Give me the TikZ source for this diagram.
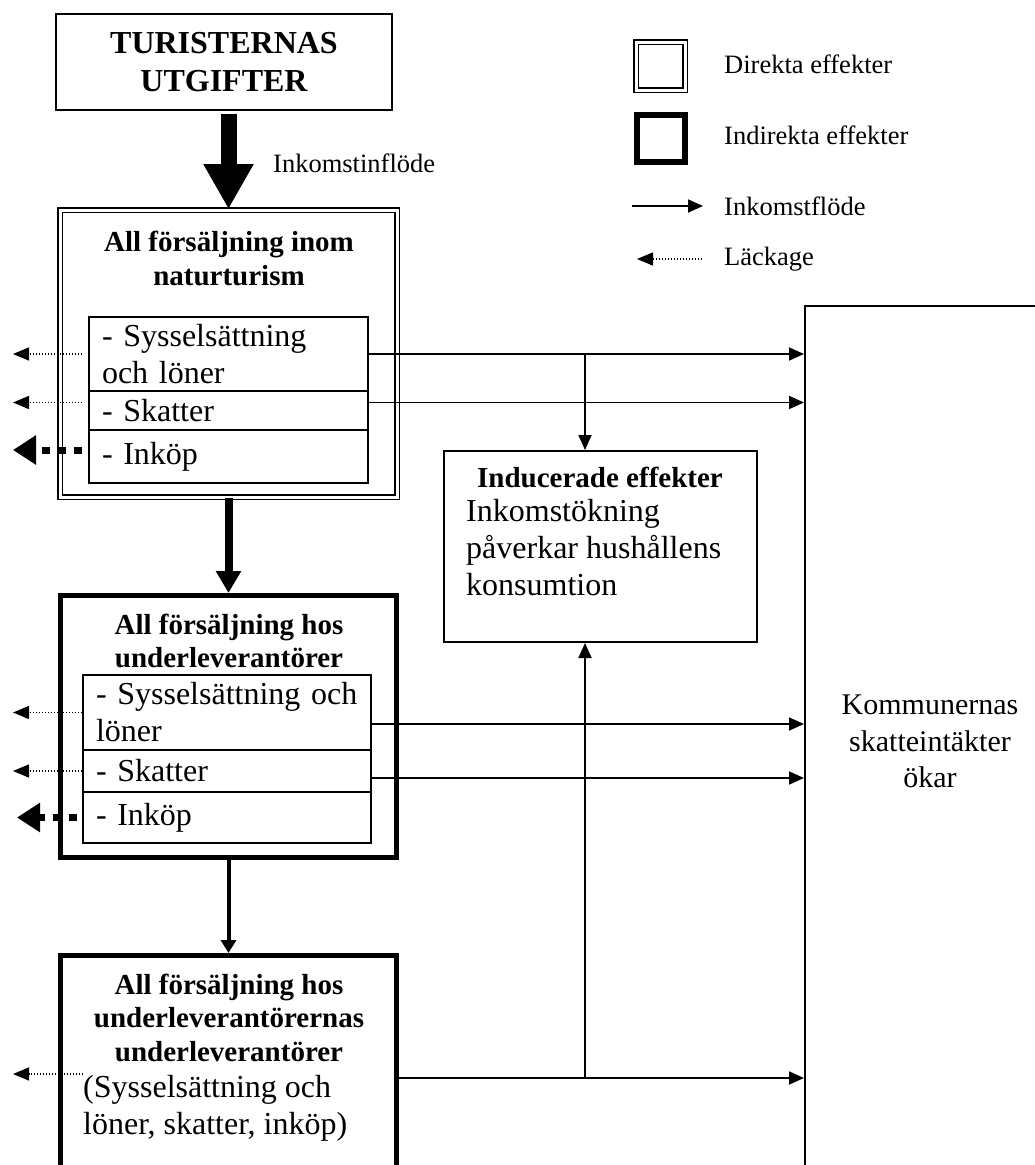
\documentclass[tikz,border=0pt]{standalone}
\usepackage{fontspec}
\setmainfont{Liberation Serif}
\usetikzlibrary{arrows.meta}
\newcommand\bodyfnt{\fontsize{32}{37}\selectfont}
\newcommand\titlefnt{\fontsize{29}{33.5}\selectfont\bfseries}
\newcommand\bigfnt{\fontsize{32}{38}\selectfont\bfseries}
\newcommand\legfnt{\fontsize{26.5}{31}\selectfont}
\newcommand\kommfnt{\fontsize{30}{36.5}\selectfont}
\tikzset{
	box/.style={draw, line width=2pt, inner sep=0pt},
	dbox/.style={draw, double, line width=1.8pt, double distance=3pt, inner sep=0pt},
	ibox/.style={draw, line width=5pt, inner sep=0pt},
	row/.style={draw, line width=2pt, inner xsep=13pt, inner ysep=0pt, align=left, font=\bodyfnt},
	head/.style={align=center, inner sep=0pt, font=\titlefnt},
	legtext/.style={anchor=west, inner sep=0pt, font=\legfnt},
	flow/.style={line width=1.8pt, -{Triangle[length=15pt, width=13pt]}},
	leak/.style={line width=1.5pt, dash pattern=on 1.5pt off 1.5pt, -{Triangle[length=16pt, width=13pt]}},
	bigleak/.style={line width=7pt, dash pattern=on 8pt off 8pt, -{Triangle[length=23pt, width=28pt]}},
	bigflow/.style={line width=16pt, -{Triangle[length=45pt, width=47pt]}},
	midflow/.style={line width=8pt, -{Triangle[length=22pt, width=24pt]}},
	smallflow/.style={line width=4pt, -{Triangle[length=13pt, width=15pt]}}
}

\begin{document}
\begin{tikzpicture}[x=1pt, y=-1pt]
	%%%%% START %%%%%
	\useasboundingbox (0,0) rectangle (1035,1165);
	\clip (0,0) rectangle (1035,1165);
	
	% legend
	\node[dbox, minimum width=49pt, minimum height=48pt] (legdir) at (660.5,66) {};
	\node[ibox, line width=6pt, minimum width=48pt, minimum height=47pt] (legind) at (661,138.5) {};
	\node[legtext] (legdirtxt) at (724,64) {Direkta effekter};
	\node[legtext] (legindtxt) at (724,135) {Indirekta effekter};
	\node[legtext] (legflowtxt) at (724,206) {Inkomstflöde};
	\node[legtext] (legleaktxt) at (724,259) {Läckage};
	\draw[flow] ([xshift=-92pt]legflowtxt.west) -- ([xshift=-21pt]legflowtxt.west);
	\draw[leak] ([xshift=-22pt]legleaktxt.west) -- ([xshift=-87pt]legleaktxt.west);
	
	% boxes
	\node[box, minimum width=336pt, minimum height=96pt, align=center, font=\bigfnt] (tur) at (224,62) {TURISTERNAS\\UTGIFTER};
	\node[legtext] (inflow) at (273,163) {Inkomstinflöde};
	
	\node[dbox, minimum width=337pt, minimum height=287pt] (natur) at (228.5,353.5) {};
	\node[head] (naturtitle) at (229,258.5) {All försäljning inom\\naturturism};
	\node[row, text width=253pt, minimum height=74pt] (r11) at (228.5,354) {- Sysselsättning\\och löner};
	\node[row, text width=253pt, minimum height=39pt] (r12) at (228.5,410.5) {- Skatter};
	\node[row, text width=253pt, minimum height=53pt] (r13) at (228.5,456.5) {- Inköp};
	
	\node[ibox, minimum width=336pt, minimum height=262pt] (sub) at (228.5,726.5) {};
	\node[head] (subtitle) at (229,641) {All försäljning hos\\underleverantörer};
	\node[row, text width=262pt, minimum height=75pt] (r21) at (227,712.5) {- Sysselsättning och\\löner};
	\node[row, text width=262pt, minimum height=42pt] (r22) at (227,771) {- Skatter};
	\node[row, text width=262pt, minimum height=51pt] (r23) at (227,817.5) {- Inköp};
	
	\node[ibox, minimum width=336pt, minimum height=245pt] (subsub) at (228.5,1078) {};
	\node[head] (subsubtitle) at (229,1017.5) {All försäljning hos\\underleverantörernas\\underleverantörer};
	\node[anchor=west, align=left, inner sep=0pt, font=\bodyfnt] (subsubtxt) at (83,1108) {(Sysselsättning och\\löner, skatter, inköp)};
	
	\node[box, minimum width=313pt, minimum height=191pt] (induc) at (600.5,546.5) {};
	\node[head] (inductitle) at (600,477) {Inducerade effekter};
	\node[anchor=west, align=left, inner sep=0pt, font=\bodyfnt] (induct) at (466,548) {Inkomstökning\\påverkar hushållens\\konsumtion};
	
	\node[box, minimum width=250pt, minimum height=871pt, align=center, font=\kommfnt] (komm) at (930,741.5) {Kommunernas\\skatteintäkter\\ökar};
	
	% flows down
	\draw[bigflow, shorten <=3pt] (natur.north |- tur.south) -- (natur.north);
	\draw[midflow] (natur.south) -- (sub.north);
	\draw[smallflow] (sub.south) -- (subsub.north);
	
	% points off the rows
	\coordinate (leakend) at (13,0);
	\coordinate (tap) at (585,0);
	\coordinate (s12) at ([yshift=8pt]r12.west);
	\coordinate (e12) at ([yshift=8pt]r12.east);
	\coordinate (s13) at ([yshift=6.5pt]r13.west);
	\coordinate (e21) at ([yshift=-11.5pt]r21.east);
	\coordinate (e22) at ([yshift=-7pt]r22.east);
	\coordinate (s3) at ([yshift=34pt]subsubtxt.west);
	
	% leakage
	\draw[leak, shorten <=6pt] (r11.west) -- (r11.west -| leakend);
	\draw[leak, shorten <=6pt] (s12) -- (s12 -| leakend);
	\draw[bigleak, shorten <=6pt] (s13) -- (s13 -| leakend);
	\draw[leak] (r21.west) -- (r21.west -| leakend);
	\draw[leak] (r22.west) -- (r22.west -| leakend);
	\draw[bigleak, shorten <=5pt] (r23.west) -- ([xshift=4pt]r23.west -| leakend);
	\draw[leak] (s3) -- (s3 -| leakend);
	
	% income
	\draw[flow] (r11.east) -- (r11.east -| komm.west);
	\draw[flow] (e12) -- (e12 -| komm.west);
	\draw[flow] (e21) -- (e21 -| komm.west);
	\draw[flow] (e22) -- (e22 -| komm.west);
	\draw[flow] (subsub.east) -- (subsub.east -| komm.west);
	\draw[flow] (tap |- r11.east) -- (tap |- induc.north);
	\draw[flow] (tap |- subsub.east) -- (tap |- induc.south);
	
	%%%%% END %%%%%
\end{tikzpicture}
\end{document}
